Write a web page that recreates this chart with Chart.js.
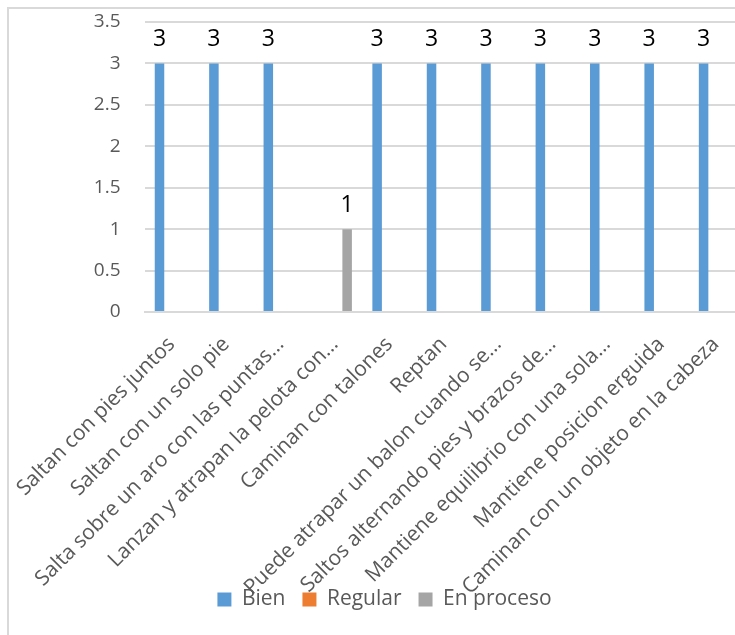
<!DOCTYPE html>
<html>
<head>
<meta charset="utf-8">
<script src="https://cdn.jsdelivr.net/npm/chart.js@4.4.1/dist/chart.umd.min.js"></script>
<style>
  html, body { margin: 0; padding: 0; background: #fff; overflow: hidden; }
  #wrap { position: relative; width: 735px; height: 635px; overflow: hidden; }
  #marco { position: absolute; left: 7px; top: 7px; width: 800px; height: 700px;
           border-left: 2px solid #d9d9d9; border-top: 2px solid #d9d9d9; }
  canvas { position: absolute; left: 0; top: 0; }
</style>
</head>
<body>
<div id="wrap">
  <div id="marco"></div>
  <canvas id="grafico" width="760" height="635"></canvas>
</div>
<script>
// categorias (tal como aparecen en el eje, recortadas por Excel)
const categorias = [
    'Saltan con pies juntos',
    'Saltan con un solo pie',
    'Salta sobre un aro con las puntas…',
    'Lanzan y atrapan la pelota con…',
    'Caminan con talones',
    'Reptan',
    'Puede atrapar un balon cuando se…',
    'Saltos alternando pies y brazos de…',
    'Mantiene equilibrio con una sola…',
    'Mantiene posicion erguida',
    'Caminan con un objeto en la cabeza'
];

const bien = [3, 3, 3, null, 3, 3, 3, 3, 3, 3, 3];
const regular = [null, null, null, null, null, null, null, null, null, null, null];
const enProceso = [null, null, null, 1, null, null, null, null, null, null, null];

const ticksY = [0, 0.5, 1, 1.5, 2, 2.5, 3, 3.5];

const fuente = "'Open Sans', 'Liberation Sans', sans-serif";
const gris = '#595959';

// etiquetas de datos encima de cada barra
const etiquetasDatos = {
    id: 'etiquetasDatos',
    afterDatasetsDraw(chart) {
        const ctx = chart.ctx;
        ctx.save();
        ctx.font = '23px ' + fuente;
        ctx.fillStyle = '#000';
        ctx.textAlign = 'center';
        ctx.textBaseline = 'alphabetic';
        chart.data.datasets.forEach(function (ds, i) {
            const meta = chart.getDatasetMeta(i);
            meta.data.forEach(function (bar, j) {
                const v = ds.data[j];
                if (v === null || v === undefined) return;
                ctx.fillText(String(v), bar.x, bar.y - 17);
            });
        });
        ctx.restore();
    }
};

new Chart(document.getElementById('grafico'), {
    type: 'bar',
    data: {
        labels: categorias,
        datasets: [
            { label: 'Bien', data: bien, backgroundColor: '#5B9BD5' },
            { label: 'Regular', data: regular, backgroundColor: '#ED7D31' },
            { label: 'En proceso', data: enProceso, backgroundColor: '#A5A5A5' }
        ]
    },
    options: {
        responsive: false,
        animation: false,
        devicePixelRatio: 1,
        categoryPercentage: 0.673,
        barPercentage: 0.78,
        layout: {
            padding: { top: 22, right: 17, left: 26, bottom: 15 }
        },
        plugins: {
            legend: {
                position: 'bottom',
                labels: {
                    boxWidth: 14,
                    boxHeight: 14,
                    padding: 17,
                    color: gris,
                    font: { family: fuente, size: 21 }
                }
            },
            tooltip: { enabled: false }
        },
        scales: {
            x: {
                grid: { display: false, drawTicks: false },
                border: { display: true, color: '#d9d9d9', width: 2 },
                ticks: {
                    autoSkip: false,
                    maxRotation: 45,
                    minRotation: 45,
                    padding: 20,
                    color: gris,
                    font: { family: fuente, size: 21 }
                },
                afterFit(scale) {
                    scale.height = 260;
                    scale.paddingLeft = 0;
                    scale.paddingRight = 0;
                    // las etiquetas largas bajan hasta la zona de la leyenda
                    scale._computeLabelArea = function () { return undefined; };
                }
            },
            y: {
                min: 0,
                max: 3.5,
                afterBuildTicks(scale) {
                    scale.ticks = ticksY.map(function (v) { return { value: v }; });
                },
                grid: { color: '#d9d9d9', lineWidth: 2, drawTicks: false },
                border: { display: false },
                ticks: {
                    padding: 24,
                    color: gris,
                    font: { family: fuente, size: 19 },
                    callback: function (v) { return String(v); }
                },
                afterFit(scale) {
                    scale.width = 118.5;
                    scale.paddingTop = 0;
                    scale.paddingBottom = 0;
                }
            }
        }
    },
    plugins: [etiquetasDatos]
});
</script>
</body>
</html>
